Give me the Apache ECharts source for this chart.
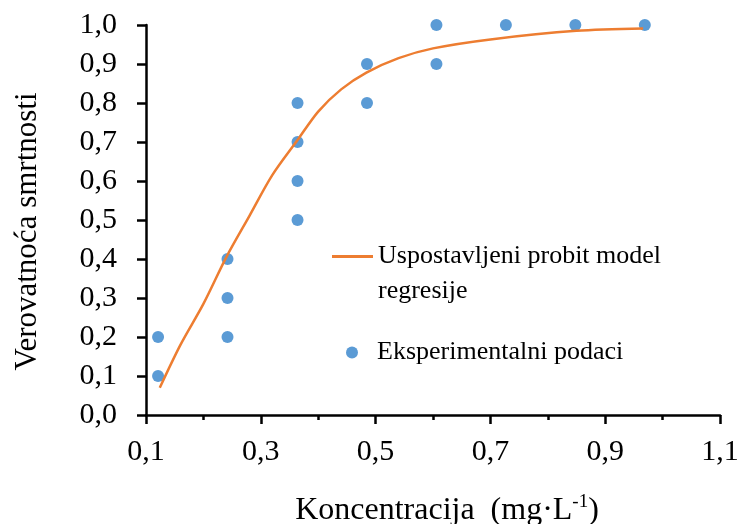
<!DOCTYPE html>
<html>
<head>
<meta charset="utf-8">
<script src="https://cdn.jsdelivr.net/npm/echarts@6/dist/echarts.min.js"></script>
<style>
    html, body { margin: 0; padding: 0; background: #fff; }
    #chart { width: 743px; height: 524px; }
</style>
</head>
<body>
<div id="chart"></div>
<script>
'use strict';
// 实验数据 (koncentracija / verovatnoća)
var expX = [0.121, 0.121, 0.242, 0.242, 0.242, 0.364, 0.364, 0.364, 0.364,
    0.485, 0.485, 0.606, 0.606, 0.727, 0.848, 0.969];
var expY = [0.1, 0.2, 0.2, 0.3, 0.4, 0.5, 0.6, 0.7, 0.8,
    0.8, 0.9, 0.9, 1.0, 1.0, 1.0, 1.0];
// probit kriva, očitano sa slike
var fitX = [0.124, 0.16, 0.20, 0.24, 0.28, 0.32, 0.364, 0.40, 0.44,
    0.484, 0.54, 0.60, 0.70, 0.85, 0.966];
var fitY = [0.07, 0.18, 0.285, 0.405, 0.51, 0.615, 0.705, 0.778, 0.835,
    0.878, 0.915, 0.94, 0.963, 0.985, 0.991];
var xTicks = [0.1, 0.3, 0.5, 0.7, 0.9, 1.1];

var LINE_NAME = 'Uspostavljeni probit model regresije';
var DOT_NAME = 'Eksperimentalni podaci';
var FONT = 'Liberation Serif';

function pairs(xs, ys) {
    var arr = [];
    for (var i = 0; i < xs.length; i++) {
        arr.push([xs[i], ys[i]]);
    }
    return arr;
}

function comma(v) {
    return v.toFixed(1).replace('.', ',');
}

var chart = echarts.init(document.getElementById('chart'));
var option = {
    animation: false,
    backgroundColor: '#fff',
    textStyle: { fontFamily: FONT, color: '#000' },
    grid: { left: 146, right: 23, top: 25, bottom: 109, outerBoundsMode: 'none', containLabel: false },
    xAxis: [{
        // glavna os: oznake i duge crtice
        type: 'value',
        min: 0.1,
        max: 1.1,
        interval: 0.1,
        name: '{a|Koncentracija  (mg·L}{s|-1}{a|)}',
        nameLocation: 'middle',
        nameGap: 78,
        nameTextStyle: {
            padding: [0, 0, 0, 28],
            rich: {
                a: { fontFamily: FONT, fontSize: 32, color: '#000' },
                s: { fontFamily: FONT, fontSize: 19, color: '#000', verticalAlign: 'top', padding: [0, 0, 16, 0] }
            }
        },
        axisLine: { lineStyle: { color: '#000', width: 2.5 } },
        axisTick: { length: 9, customValues: xTicks, lineStyle: { color: '#000', width: 2.5 } },
        splitLine: { show: false },
        axisLabel: {
            fontFamily: FONT,
            fontSize: 30,
            color: '#000',
            margin: 22,
            customValues: xTicks,
            formatter: comma
        }
    }, {
        // kratke crtice na svakih 0,1
        type: 'value',
        position: 'bottom',
        min: 0.1,
        max: 1.1,
        interval: 0.1,
        axisLine: { show: false },
        axisTick: { length: 5, lineStyle: { color: '#000', width: 2.5 } },
        axisLabel: { show: false },
        splitLine: { show: false }
    }],
    yAxis: {
        type: 'value',
        min: 0,
        max: 1,
        interval: 0.1,
        name: 'Verovatnoća smrtnosti',
        nameLocation: 'middle',
        nameGap: 103,
        nameTextStyle: { fontFamily: FONT, fontSize: 31, color: '#000', padding: [0, 23, 0, 0] },
        axisLine: { lineStyle: { color: '#000', width: 2.5 } },
        axisTick: { length: 9, lineStyle: { color: '#000', width: 2.5 } },
        splitLine: { show: false },
        axisLabel: {
            fontFamily: FONT,
            fontSize: 30,
            color: '#000',
            margin: 29,
            formatter: comma
        }
    },
    legend: [{
        data: [LINE_NAME],
        left: 332,
        top: 204,
        padding: 0,
        icon: 'rect',
        itemWidth: 41,
        itemHeight: 3,
        itemStyle: { color: '#ED7D31' },
        formatter: function () {
            return '\nUspostavljeni probit model\nregresije';
        },
        textStyle: { fontFamily: FONT, fontSize: 26, color: '#000', lineHeight: 35 }
    }, {
        data: [DOT_NAME],
        left: 346,
        top: 335,
        padding: 0,
        icon: 'circle',
        itemWidth: 12,
        itemHeight: 12,
        textStyle: { fontFamily: FONT, fontSize: 26, color: '#000', lineHeight: 35, padding: [0, 0, 0, 14] }
    }],
    series: [{
        name: LINE_NAME,
        type: 'line',
        smooth: 0.3,
        symbol: 'none',
        lineStyle: { color: '#ED7D31', width: 2.5 },
        itemStyle: { color: '#ED7D31' },
        data: pairs(fitX, fitY)
    }, {
        name: DOT_NAME,
        type: 'scatter',
        symbolSize: 12,
        itemStyle: { color: '#5B9BD5', opacity: 1 },
        data: pairs(expX, expY)
    }]
};
chart.setOption(option);
</script>
</body>
</html>
